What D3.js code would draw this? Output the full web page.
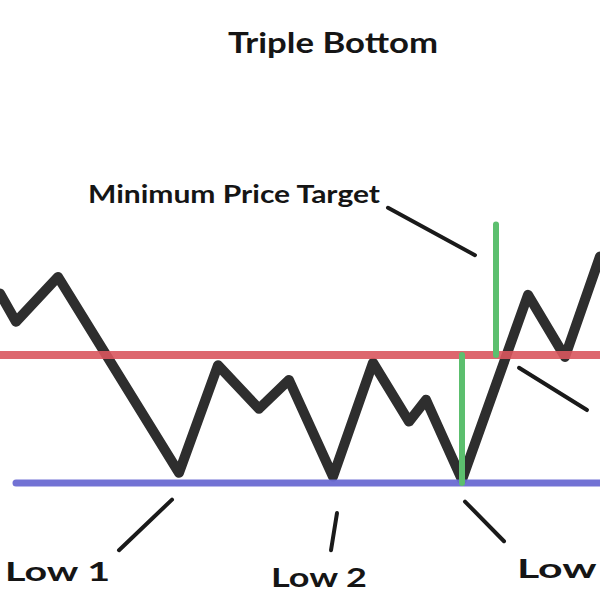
<!DOCTYPE html>
<html>
<head>
<meta charset="utf-8">
<script src="https://cdn.jsdelivr.net/npm/d3@7"></script>
<style>
  html, body { margin: 0; padding: 0; background: #ffffff; }
  svg { display: block; }
  text { font-family: Lato, "Open Sans", sans-serif; font-weight: 700; fill: #151515; }
</style>
</head>
<body>
<svg id="chart" width="600" height="600"></svg>
<script>
// ---- Data (time units, price units) ----
const title = "Triple Bottom";
const priceTime  = [0, 1.6, 5.8, 17.9, 21.8, 25.9, 28.9, 33.3, 37.3, 40.9, 42.6, 46.2, 52.8, 56.5, 60];
const priceValue = [24.8, 22.6, 26.1, 10.8, 19.2, 15.8, 18.05, 10.5, 19.4, 14.8, 16.5, 10.25, 24.7, 19.85, 27.7];

const resistanceLevel = 20;
const supportLevel = 10;
const resistanceSpan = [0, 60];
const supportSpan = [1.6, 60];

// measured move: pattern height, then projected above breakout
const targetTimes = [46.2, 49.6];
const targetFrom  = [10, 20];
const targetTo    = [20, 30.2];

// annotation pointers: [t1, p1, t2, p2]
const pointerNames = ["target", "breakout", "low1", "low2", "low3"];
const pointerT1 = [38.8, 51.9, 17.2, 33.7, 46.5];
const pointerP1 = [31.5, 19.0, 8.7, 7.65, 8.55];
const pointerT2 = [47.5, 58.7, 11.9, 33.1, 50.4];
const pointerP2 = [27.8, 15.7, 4.75, 4.75, 5.45];

// labels
const labelText = ["Minimum Price Target", "Low 1", "Low 2", "Low 3"];
const labelT    = [8.8, 0.5, 27.1, 51.7];
const labelP    = [31.85, 2.35, 1.85, 2.55];
const labelSize = [25, 27, 27, 27];
const labelLen  = [292, 105, 96, 114];

// ---- Scales ----
const svg = d3.select("#chart");
const x = d3.scaleLinear().domain([0, 60]).range([0, 600]);
const y = d3.scaleLinear().domain([10, 20]).range([483, 355]);

// title
svg.append("text")
  .attr("x", 333).attr("y", 53)
  .attr("text-anchor", "middle")
  .attr("font-size", 28)
  .attr("textLength", 210)
  .attr("lengthAdjust", "spacingAndGlyphs")
  .text(title);

// price path
const pts = priceTime.map((t, i) => [t, priceValue[i]]);
const line = d3.line().x(d => x(d[0])).y(d => y(d[1]));
svg.append("path")
  .datum(pts)
  .attr("d", line)
  .attr("fill", "none")
  .attr("stroke", "#2e2e2e")
  .attr("stroke-width", 10)
  .attr("stroke-linejoin", "round")
  .attr("stroke-linecap", "round");

// resistance (red)
svg.append("line")
  .attr("x1", x(resistanceSpan[0])).attr("x2", x(resistanceSpan[1]))
  .attr("y1", y(resistanceLevel)).attr("y2", y(resistanceLevel))
  .attr("stroke", "#d9565e")
  .attr("stroke-opacity", 0.9)
  .attr("stroke-width", 8);

// support (blue)
svg.append("line")
  .attr("x1", x(supportSpan[0])).attr("x2", x(supportSpan[1]))
  .attr("y1", y(supportLevel)).attr("y2", y(supportLevel))
  .attr("stroke", "#6a6ad2")
  .attr("stroke-opacity", 0.95)
  .attr("stroke-width", 7)
  .attr("stroke-linecap", "round");

// target (green)
svg.selectAll("line.target")
  .data(targetTimes)
  .enter().append("line")
  .attr("class", "target")
  .attr("x1", d => x(d)).attr("x2", d => x(d))
  .attr("y1", (d, i) => y(targetFrom[i]))
  .attr("y2", (d, i) => y(targetTo[i]))
  .attr("stroke", "#5cbf6e")
  .attr("stroke-width", 6)
  .attr("stroke-linecap", "round");

// pointers
svg.selectAll("line.pointer")
  .data(pointerNames)
  .enter().append("line")
  .attr("class", "pointer")
  .attr("x1", (d, i) => x(pointerT1[i]))
  .attr("y1", (d, i) => y(pointerP1[i]))
  .attr("x2", (d, i) => x(pointerT2[i]))
  .attr("y2", (d, i) => y(pointerP2[i]))
  .attr("stroke", "#1a1a1a")
  .attr("stroke-width", 4)
  .attr("stroke-linecap", "round");

// labels
svg.selectAll("text.label")
  .data(labelText)
  .enter().append("text")
  .attr("class", "label")
  .attr("x", (d, i) => x(labelT[i]))
  .attr("y", (d, i) => y(labelP[i]))
  .attr("font-size", (d, i) => labelSize[i])
  .attr("textLength", (d, i) => labelLen[i])
  .attr("lengthAdjust", "spacingAndGlyphs")
  .text(d => d);
</script>
</body>
</html>
